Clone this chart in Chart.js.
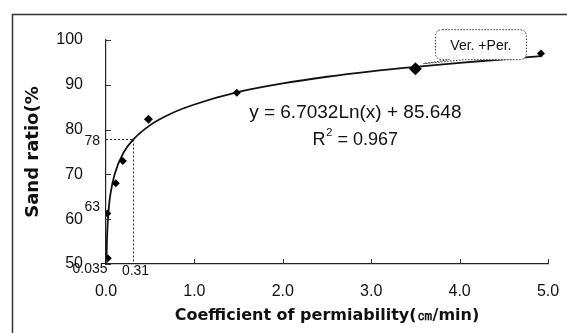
<!DOCTYPE html>
<html>
<head>
<meta charset="utf-8">
<script src="https://cdn.jsdelivr.net/npm/chart.js@4/dist/chart.umd.min.js"></script>
<style>
  html, body { margin: 0; padding: 0; background: #fff; }
  #wrap { width: 567px; height: 333px; position: relative; }
</style>
</head>
<body>
<div id="wrap"><canvas id="c" width="567" height="333"></canvas></div>
<script>
// Measured points: coefficient of permeability (cm/min) vs sand ratio (%)
const pointX = [0.02, 0.015, 0.11, 0.19, 0.48, 1.48, 3.5, 4.92];
const pointY = [51.3, 61.3, 68.0, 73.0, 82.3, 88.2, 93.6, 97.0];
const pointSizes = [4, 4, 4, 4, 4.5, 4, 6.5, 4];

// Logarithmic trend curve
const trendX = [0.005, 0.01, 0.02, 0.035, 0.05, 0.1, 0.2, 0.31, 0.5, 0.75, 1.0, 1.5, 2.0, 2.5, 3.0, 3.5, 4.0, 4.5, 4.92];
const trendY = [50.1, 54.8, 59.4, 63.2, 65.6, 70.2, 74.9, 77.8, 81.0, 83.7, 85.6, 88.4, 90.3, 91.8, 93.0, 94.0, 94.9, 95.7, 96.4];

// Reference marks (dashed guide lines)
const guideX = 0.31;
const guideY = 78;
const guideStartX = 0.035;
const guideStartY = 63;

const xTicks = [0, 1, 2, 3, 4, 5];
const yTicks = [50, 60, 70, 80, 90, 100];

const equationText = "y = 6.7032Ln(x) + 85.648";
const r2Label = "R";
const r2Value = " = 0.967";
const calloutText = "Ver. +Per.";
const calloutIndex = 6;

const xTitle = "Coefficient of permiability(㎝/min)";
const yTitle = "Sand ratio(%";

const FONT = "'Liberation Sans', Arial, sans-serif";
const TFONT = "'DejaVu Sans', 'Liberation Sans', sans-serif";

const extras = {
  id: 'extras',
  beforeDraw(chart) {
    const ctx = chart.ctx;
    ctx.save();
    ctx.fillStyle = '#fff';
    ctx.fillRect(0, 0, chart.width, chart.height);
    // outer frame
    ctx.strokeStyle = '#333';
    ctx.lineWidth = 1.5;
    ctx.beginPath();
    ctx.moveTo(12.5, 340);
    ctx.lineTo(12.5, 14.5);
    ctx.lineTo(570, 14.5);
    ctx.stroke();
    ctx.restore();
  },
  afterDatasetsDraw(chart) {
    const ctx = chart.ctx;
    const xs = chart.scales.x, ys = chart.scales.y;
    const area = chart.chartArea;
    ctx.save();
    // inside tick marks
    ctx.strokeStyle = '#333';
    ctx.lineWidth = 1;
    ctx.beginPath();
    yTicks.forEach(v => {
      const y = Math.round(ys.getPixelForValue(v)) + 0.5;
      ctx.moveTo(area.left, y); ctx.lineTo(area.left + 5, y);
    });
    xTicks.forEach(v => {
      const x = Math.round(xs.getPixelForValue(v)) + 0.5;
      ctx.moveTo(x, area.bottom); ctx.lineTo(x, area.bottom - 5);
    });
    ctx.stroke();

    // dashed guide lines
    ctx.setLineDash([2, 2]);
    ctx.strokeStyle = '#222';
    ctx.lineWidth = 1;
    const gx = Math.round(xs.getPixelForValue(guideX)) + 0.5;
    const gy = Math.round(ys.getPixelForValue(guideY)) + 0.5;
    ctx.beginPath();
    ctx.moveTo(area.left, gy); ctx.lineTo(gx, gy);
    ctx.moveTo(gx, gy); ctx.lineTo(gx, area.bottom);
    ctx.stroke();
    ctx.setLineDash([]);

    // guide labels
    ctx.fillStyle = '#111';
    ctx.font = '14px ' + FONT;
    ctx.textAlign = 'right';
    ctx.textBaseline = 'middle';
    ctx.fillText(String(guideY), area.left - 6, gy + 2);
    ctx.fillText(String(guideStartY), area.left - 6, ys.getPixelForValue(guideStartY) + 1);
    ctx.textAlign = 'center';
    ctx.fillText(guideStartX.toFixed(3), area.left - 16, area.bottom + 5);
    ctx.fillText(String(guideX), gx + 2, area.bottom + 7);

    // equation
    const ex = xs.getPixelForValue(2.82);
    const ey = ys.getPixelForValue(83.7);
    ctx.font = '19px ' + FONT;
    ctx.textAlign = 'center';
    ctx.fillText(equationText, ex, ey);
    // R² line
    const rW = ctx.measureText(r2Label).width;
    ctx.font = '11px ' + FONT;
    const sW = ctx.measureText('2').width;
    ctx.font = '18px ' + FONT;
    const vW = ctx.measureText(r2Value).width;
    const total = rW + sW + vW;
    let sx = ex - total / 2;
    const ry = ey + 27;
    ctx.textAlign = 'left';
    ctx.fillText(r2Label, sx, ry);
    ctx.font = '11px ' + FONT;
    ctx.fillText('2', sx + rW, ry - 7);
    ctx.font = '18px ' + FONT;
    ctx.fillText(r2Value, sx + rW + sW, ry);

    // callout
    const px = xs.getPixelForValue(pointX[calloutIndex]);
    const py = ys.getPixelForValue(pointY[calloutIndex]);
    const bx = px + 20, by = py - 39, bw = 91, bh = 30, r = 7;
    ctx.fillStyle = '#fff';
    ctx.strokeStyle = '#333';
    ctx.lineWidth = 1;
    ctx.setLineDash([1.5, 1.5]);
    ctx.beginPath();
    ctx.moveTo(bx + r, by);
    ctx.lineTo(bx + bw - r, by);
    ctx.quadraticCurveTo(bx + bw, by, bx + bw, by + r);
    ctx.lineTo(bx + bw, by + bh - r);
    ctx.quadraticCurveTo(bx + bw, by + bh, bx + bw - r, by + bh);
    ctx.lineTo(bx + 30, by + bh);
    ctx.lineTo(px + 8, py - 5);
    ctx.lineTo(bx + 14, by + bh);
    ctx.lineTo(bx + r, by + bh);
    ctx.quadraticCurveTo(bx, by + bh, bx, by + bh - r);
    ctx.lineTo(bx, by + r);
    ctx.quadraticCurveTo(bx, by, bx + r, by);
    ctx.closePath();
    ctx.fill();
    ctx.stroke();
    ctx.setLineDash([]);
    ctx.fillStyle = '#111';
    ctx.font = '14px ' + FONT;
    ctx.textAlign = 'center';
    ctx.textBaseline = 'middle';
    ctx.fillText(calloutText, bx + bw / 2, by + bh / 2 + 1);
    ctx.restore();
  }
};

const ctx = document.getElementById('c').getContext('2d');
new Chart(ctx, {
  type: 'scatter',
  data: {
    datasets: [
      {
        label: 'trend',
        data: trendX.map((x, i) => ({ x, y: trendY[i] })),
        showLine: true,
        borderColor: '#111',
        borderWidth: 1.8,
        pointRadius: 0,
        cubicInterpolationMode: 'monotone',
        order: 2
      },
      {
        label: 'data',
        data: pointX.map((x, i) => ({ x, y: pointY[i] })),
        showLine: false,
        pointStyle: 'rectRot',
        pointRadius: pointSizes,
        backgroundColor: '#000',
        borderColor: '#000',
        borderWidth: 0,
        order: 1
      }
    ]
  },
  options: {
    responsive: false,
    animation: false,
    devicePixelRatio: 1,
    layout: { padding: { left: 0, top: 40, right: 19, bottom: 0 } },
    plugins: { legend: { display: false }, tooltip: { enabled: false } },
    scales: {
      x: {
        type: 'linear',
        min: 0, max: 5,
        afterFit(s) { s.height = 69; s.paddingLeft = 0; s.paddingRight = 0; },
        afterBuildTicks(s) { s.ticks = xTicks.map(v => ({ value: v })); },
        grid: { display: false, drawTicks: false },
        border: { display: true, color: '#222', width: 1.2 },
        ticks: {
          color: '#111',
          font: { family: FONT, size: 16 },
          padding: 18,
          maxRotation: 0,
          callback: v => Number(v).toFixed(1)
        },
        title: {
          display: true,
          text: xTitle,
          color: '#111',
          font: { family: TFONT, size: 16, weight: 'bold' },
          padding: { top: 8, bottom: 8 }
        }
      },
      y: {
        type: 'linear',
        min: 50, max: 100,
        afterFit(s) { s.width = 106; s.paddingTop = 0; s.paddingBottom = 0; },
        afterBuildTicks(s) { s.ticks = yTicks.map(v => ({ value: v })); },
        grid: { display: false, drawTicks: false },
        border: { display: true, color: '#222', width: 1.2 },
        ticks: {
          color: '#111',
          font: { family: FONT, size: 16 },
          padding: 23
        },
        title: {
          display: true,
          text: yTitle,
          color: '#111',
          font: { family: TFONT, size: 18, weight: 'bold' },
          padding: { top: 23, bottom: 23 }
        }
      }
    }
  },
  plugins: [extras]
});
</script>
</body>
</html>
